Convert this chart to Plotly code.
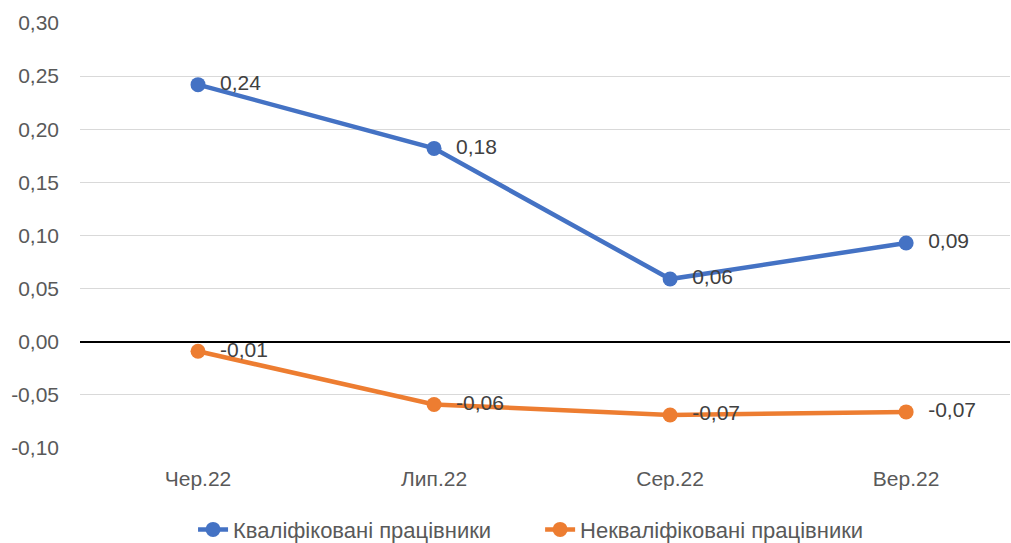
import plotly.graph_objects as go

categories = ["Чер.22", "Лип.22", "Сер.22", "Вер.22"]
skilled = [0.242, 0.182, 0.059, 0.093]
unskilled = [-0.009, -0.059, -0.069, -0.066]
series_names = ["Кваліфіковані працівники", "Некваліфіковані працівники"]
y_ticks = [-0.10, -0.05, 0.00, 0.05, 0.10, 0.15, 0.20, 0.25, 0.30]

def fmt(v):
    return f"{v:.2f}".replace(".", ",")

font = "Liberation Sans, Arial, sans-serif"
fig = go.Figure()
for i, (name, vals, col) in enumerate([(series_names[0], skilled, "#4472C4"),
                                       (series_names[1], unskilled, "#ED7D31")]):
    fig.add_trace(go.Scatter(
        x=list(range(len(categories))), y=vals,
        name=name + ("\u2003\u2003" if i == 0 else ""),
        mode="lines+markers+text",
        line=dict(color=col, width=4.5),
        marker=dict(color=col, size=15),
        text=["  " + fmt(v) for v in vals],
        textposition="middle right",
        textfont=dict(size=21, color="#404040", family=font),
        cliponaxis=False,
    ))

fig.update_layout(
    width=1011, height=543,
    margin=dict(l=80, r=1, t=23, b=95, autoexpand=False),
    plot_bgcolor="white", paper_bgcolor="white",
    separators=", ",
    font=dict(family=font, size=21, color="#595959"),
    showlegend=True,
    legend=dict(orientation="h", x=0.485, xanchor="center", y=-0.192, yanchor="middle",
                font=dict(size=22, color="#595959", family=font), traceorder="normal"),
    xaxis=dict(
        tickmode="array", tickvals=list(range(len(categories))), ticktext=categories,
        range=[-0.5, 3.44], showgrid=False, zeroline=False, showline=False,
        ticks="", ticklabelstandoff=16, tickfont=dict(size=21, color="#595959", family=font),
    ),
    yaxis=dict(
        range=[-0.10, 0.30], tickmode="array", tickvals=y_ticks,
        ticktext=[fmt(v) for v in y_ticks],
        showgrid=True, gridcolor="#D9D9D9", gridwidth=1,
        zeroline=True, zerolinecolor="#000000", zerolinewidth=1.5,
        showline=False, ticks="", ticklabelstandoff=20,
        tickfont=dict(size=21, color="#595959", family=font),
    ),
)
fig.write_html("out.html", config={"displayModeBar": False},
               post_script="document.body.style.margin='0';")
